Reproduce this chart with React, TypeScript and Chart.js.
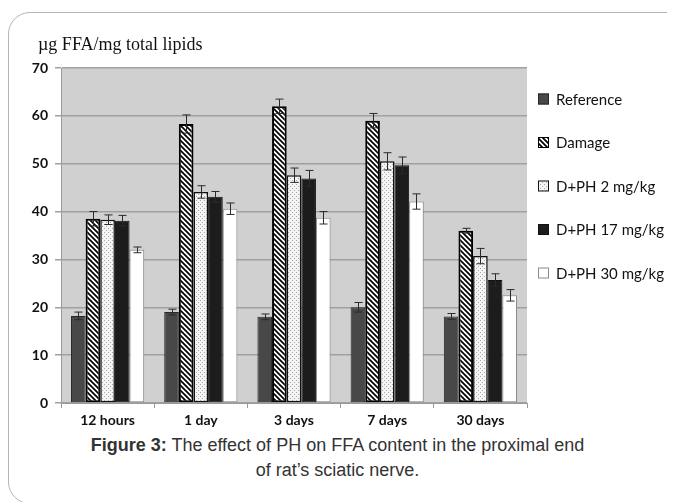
import React, { useEffect, useRef } from "react";
import { Chart, registerables } from "chart.js";

Chart.register(...registerables);

const categories = ["12 hours", "1 day", "3 days", "7 days", "30 days"];
const seriesNames = ["Reference", "Damage", "D+PH 2 mg/kg", "D+PH 17 mg/kg", "D+PH 30 mg/kg"];
const reference = [18.2, 19.0, 18.0, 20.0, 18.1];
const referenceErr = [0.8, 0.6, 0.6, 1.0, 0.6];
const damage = [38.5, 58.3, 62.0, 59.0, 36.0];
const damageErr = [1.5, 1.9, 1.5, 1.5, 0.5];
const dph2 = [38.3, 44.1, 47.6, 50.5, 30.7];
const dph2Err = [1.0, 1.3, 1.5, 1.8, 1.6];
const dph17 = [38.1, 43.1, 46.9, 49.7, 25.7];
const dph17Err = [1.1, 1.1, 1.7, 1.7, 1.3];
const dph30 = [32.0, 40.6, 38.7, 42.1, 22.5];
const dph30Err = [0.6, 1.2, 1.3, 1.6, 1.2];
const yTicks = [0, 10, 20, 30, 40, 50, 60, 70];
const yTitle = "\u00b5g FFA/mg total lipids";

function stripePattern(ctx: CanvasRenderingContext2D) {
  const c = document.createElement("canvas");
  c.width = 5;
  c.height = 5;
  const g = c.getContext("2d")!;
  g.fillStyle = "#ffffff";
  g.fillRect(0, 0, 5, 5);
  g.strokeStyle = "#000000";
  g.lineWidth = 1.7;
  g.beginPath();
  g.moveTo(-1, -1);
  g.lineTo(6, 6);
  g.moveTo(-1, 4);
  g.lineTo(1, 6);
  g.moveTo(4, -1);
  g.lineTo(6, 1);
  g.stroke();
  return ctx.createPattern(c, "repeat")!;
}

function dotPattern(ctx: CanvasRenderingContext2D) {
  const c = document.createElement("canvas");
  c.width = 4;
  c.height = 4;
  const g = c.getContext("2d")!;
  g.fillStyle = "#f4f4f4";
  g.fillRect(0, 0, 4, 4);
  g.fillStyle = "#a8a8a8";
  g.fillRect(0, 0, 1, 1);
  g.fillRect(2, 2, 1, 1);
  return ctx.createPattern(c, "repeat")!;
}

const errs = [referenceErr, damageErr, dph2Err, dph17Err, dph30Err];

const extras = {
  id: "extras",
  beforeDraw(chart: any) {
    const { ctx, chartArea: a } = chart;
    ctx.save();
    ctx.fillStyle = "#d0d0d0";
    ctx.fillRect(a.left, a.top, a.right - a.left, a.bottom - a.top);
    ctx.restore();
  },
  afterDatasetsDraw(chart: any) {
    const { ctx } = chart;
    const yScale = chart.scales.y;
    ctx.save();
    ctx.strokeStyle = "#2a2a2a";
    ctx.lineWidth = 1;
    chart.data.datasets.forEach((ds: any, i: number) => {
      const meta = chart.getDatasetMeta(i);
      meta.data.forEach((bar: any, j: number) => {
        const v = ds.data[j];
        const e = errs[i][j];
        const x = Math.round(bar.x) + 0.5;
        const yt = yScale.getPixelForValue(v + e);
        const yb = yScale.getPixelForValue(v - e);
        ctx.beginPath();
        ctx.moveTo(x, yt);
        ctx.lineTo(x, yb);
        ctx.moveTo(x - 4, yt);
        ctx.lineTo(x + 4, yt);
        ctx.moveTo(x - 4, yb);
        ctx.lineTo(x + 4, yb);
        ctx.stroke();
      });
    });
    ctx.restore();
  },
  afterDraw(chart: any) {
    const { ctx } = chart;
    ctx.save();
    // y title
    ctx.fillStyle = "#111";
    ctx.font = "18px 'Liberation Serif', serif";
    ctx.textBaseline = "middle";
    ctx.textAlign = "left";
    ctx.fillText(yTitle, 30, 37);
    // legend
    ctx.font = "15px Lato, sans-serif";
    chart.data.datasets.forEach((ds: any, i: number) => {
      const cy = 91 + i * 43.5;
      const bx = 530;
      ctx.fillStyle = ds.backgroundColor;
      ctx.fillRect(bx, cy - 5.5, 11, 11);
      ctx.strokeStyle = ds.borderColor;
      ctx.lineWidth = 1;
      ctx.strokeRect(bx + 0.5, cy - 5, 10, 10);
      ctx.fillStyle = "#111";
      ctx.fillText(ds.label, 548, cy + 1);
    });
    ctx.restore();
  },
};

export default function App() {
  const ref = useRef<HTMLCanvasElement | null>(null);
  useEffect(() => {
    document.documentElement.style.overflow = "hidden";
    document.body.style.overflow = "hidden";
    const canvas = ref.current!;
    const ctx = canvas.getContext("2d")!;
    const stripes = stripePattern(ctx);
    const dots = dotPattern(ctx);
    const chart = new Chart(canvas, {
      type: "bar",
      data: {
        labels: categories,
        datasets: [
          { label: seriesNames[0], data: reference, backgroundColor: "#484848", borderColor: "#262626", borderWidth: 1 },
          { label: seriesNames[1], data: damage, backgroundColor: stripes as any, borderColor: "#000000", borderWidth: 2 },
          { label: seriesNames[2], data: dph2, backgroundColor: dots as any, borderColor: "#111111", borderWidth: 1.5 },
          { label: seriesNames[3], data: dph17, backgroundColor: "#1c1c1c", borderColor: "#111111", borderWidth: 1 },
          { label: seriesNames[4], data: dph30, backgroundColor: "#ffffff", borderColor: "#8a8a8a", borderWidth: 1 },
        ],
      },
      options: {
        animation: false,
        responsive: false,
        maintainAspectRatio: false,
        layout: { padding: { top: 60, left: 0, right: 148, bottom: 0 } },
        datasets: { bar: { barPercentage: 1, categoryPercentage: 0.785, borderSkipped: false } } as any,
        plugins: { legend: { display: false }, tooltip: { enabled: false }, title: { display: false } },
        scales: {
          x: {
            afterFit: (s: any) => { s.height = 30; },
            grid: { display: true, drawOnChartArea: false, drawTicks: true, tickLength: 5, color: "#9a9a9a", offset: true },
            border: { display: true, color: "#9a9a9a", width: 1 },
            ticks: { color: "#111", font: { family: "Lato, sans-serif", size: 14, weight: "bold" }, padding: 4 },
          },
          y: {
            min: 0,
            max: 70,
            afterFit: (s: any) => { s.width = 53; },
            afterBuildTicks: (s: any) => { s.ticks = yTicks.map((v) => ({ value: v })); },
            grid: { color: "#a0a0a0", lineWidth: 1.5, tickLength: 6 },
            border: { display: true, color: "#9a9a9a", width: 1 },
            ticks: { color: "#111", font: { family: "Lato, sans-serif", size: 14, weight: "bold" }, padding: 7 },
          },
        },
      },
      plugins: [extras],
    });
    return () => chart.destroy();
  }, []);

  return (
    <div style={{ position: "relative", width: 667, height: 494, overflow: "hidden", background: "#fff" }}>
      <div
        style={{
          position: "absolute",
          left: 0,
          top: 4,
          width: 720,
          height: 492,
          border: "1.5px solid #b5b5b5",
          borderRadius: 22,
          boxSizing: "border-box",
        }}
      />
      <canvas ref={ref} width={667} height={425} style={{ position: "absolute", left: 0, top: 0, display: "block" }} />
      <div
        style={{
          position: "absolute",
          left: 0,
          top: 425,
          width: 659,
          textAlign: "center",
          fontFamily: "'Liberation Sans', Arial, sans-serif",
          fontSize: 18,
          lineHeight: "25px",
          color: "#333",
        }}
      >
        <b>Figure 3:</b> The effect of PH on FFA content in the proximal end
        <br />
        of rat’s sciatic nerve.
      </div>
    </div>
  );
}
